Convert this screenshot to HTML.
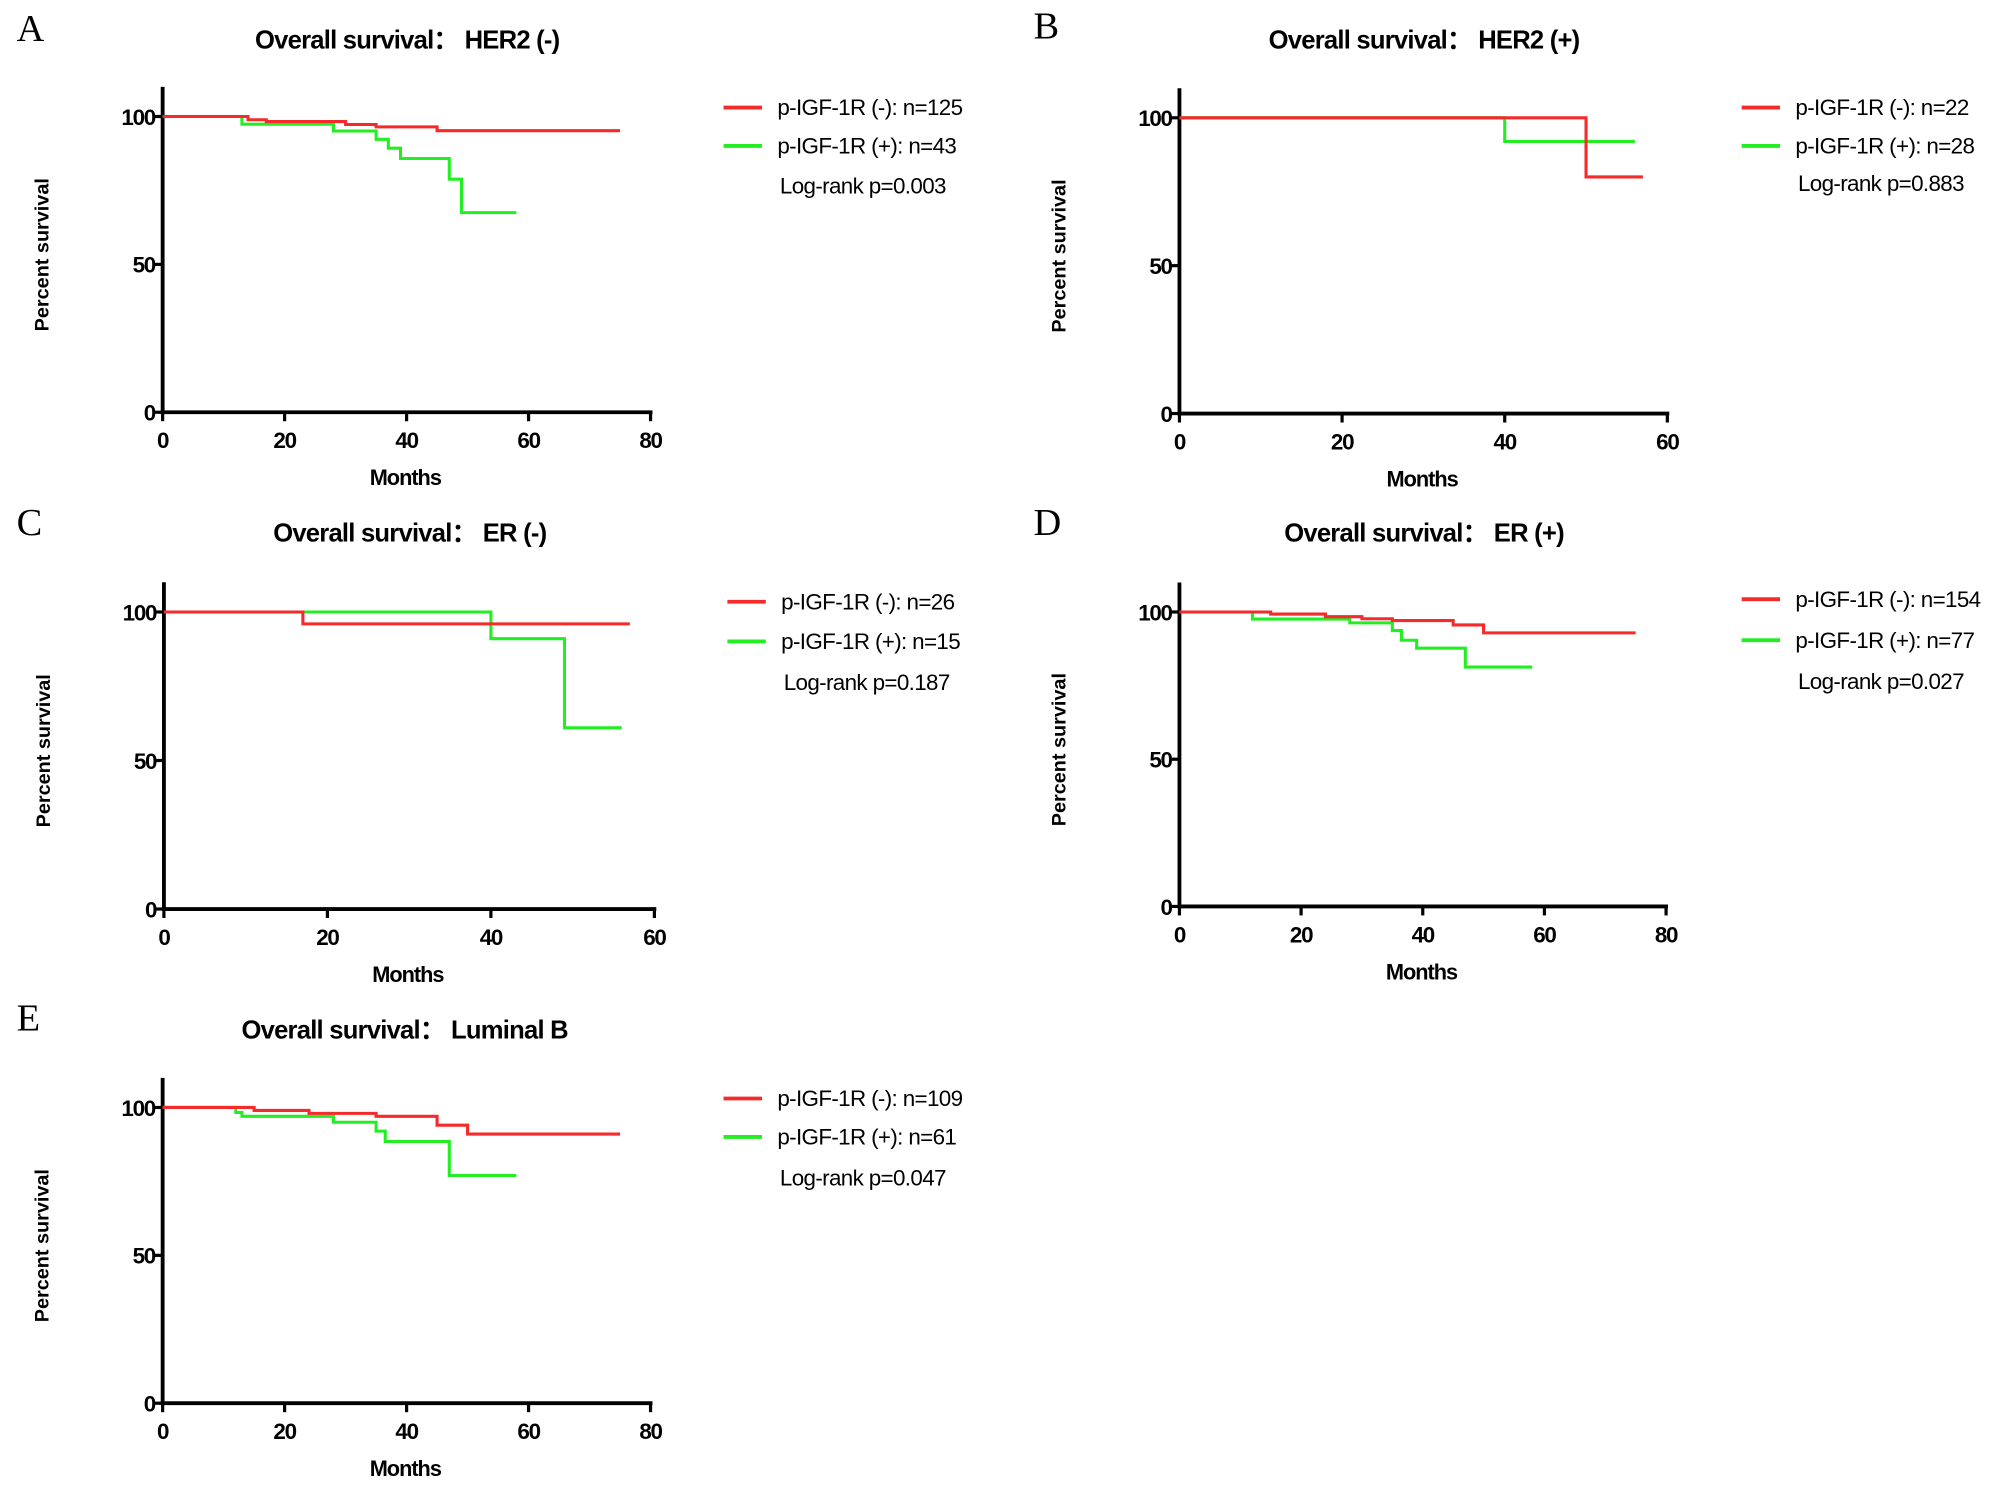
<!DOCTYPE html>
<html><head><meta charset="utf-8"><style>
html,body{margin:0;padding:0;background:#fff}
svg{display:block}
text{font-family:"Liberation Sans",sans-serif}
</style></head><body>
<svg id="fig" xmlns="http://www.w3.org/2000/svg" width="2008" height="1489" viewBox="0 0 1568 1163" preserveAspectRatio="none"></svg>
<script>
// Panel A: HER2 (-)
const aRedT=[0,14,17,30,35,45,75], aRedS=[100,98.9,98.3,97.3,96.5,95.2,95.2];
const aGrnT=[0,13,28,35,37,39,47,49,58], aGrnS=[100,97.4,95.1,92.3,89.3,85.8,78.8,67.5,67.5];
// Panel B: HER2 (+)
const bRedT=[0,50,57], bRedS=[100,80,80];
const bGrnT=[0,40,56], bGrnS=[100,92,92];
// Panel C: ER (-)
const cRedT=[0,17,57], cRedS=[100,96,96];
const cGrnT=[0,40,49,56], cGrnS=[100,91,61,61];
// Panel D: ER (+)
const dRedT=[0,15,24,30,35,45,50,75], dRedS=[100,99.3,98.4,97.7,97.1,95.6,92.9,92.9];
const dGrnT=[0,12,28,35,36.5,39,47,58], dGrnS=[100,97.6,96.3,93.7,90.4,87.7,81.3,81.3];
// Panel E: Luminal B
const eRedT=[0,15,24,35,45,50,75], eRedS=[100,99,98,97,94,91,91];
const eGrnT=[0,12,13,28,35,36.5,47,58], eGrnS=[100,98.3,97,95,92,88.5,77,77];
const yTicks=[0,50,100];
const xTicks80=[0,20,40,60,80], xTicks60=[0,20,40,60];

const NS="http://www.w3.org/2000/svg";
const svg=document.getElementById('fig');
function el(tag,attrs,parent){const e=document.createElementNS(NS,tag);for(const k in attrs)e.setAttribute(k,attrs[k]);(parent||svg).appendChild(e);return e;}
function txt(s,attrs,parent){const e=el('text',attrs,parent);e.textContent=s;return e;}

function panel(cfg){
  const g=el('g',{});
  
  
  const xs=v=>cfg.x0+(v/cfg.xmax)*(cfg.x1-cfg.x0);
  const ys=v=>cfg.y0-(v/100)*(cfg.y0-cfg.y100);
  const L=txt(cfg.id,{x:cfg.lx,y:cfg.ly,style:'font-family:"Liberation Serif",serif','font-size':30},g);
  
  const T=txt(cfg.title,{x:cfg.tx,y:cfg.ty+7,'text-anchor':'middle','font-weight':'bold','font-size':20,'letter-spacing':-0.6},g);
  
  const ya=el('line',{x1:cfg.x0,x2:cfg.x0,y1:ys(110),y2:cfg.y0+1.5,stroke:'#000','stroke-width':3},g);
  
  const xa=el('line',{x1:cfg.x0-1.5,x2:cfg.x1+1.5,y1:cfg.y0,y2:cfg.y0,stroke:'#000','stroke-width':3},g);
  
  yTicks.forEach(v=>{
    el('line',{x1:cfg.x0-6,x2:cfg.x0,y1:ys(v),y2:ys(v),stroke:'#000','stroke-width':2.5},g);
    const t=txt(String(v),{x:cfg.x0-6,y:ys(v)+6.5,'text-anchor':'end','font-weight':'bold','font-size':17.5,'letter-spacing':-1},g);
    
  });
  cfg.xt.forEach(v=>{
    el('line',{x1:xs(v),x2:xs(v),y1:cfg.y0,y2:cfg.y0+7,stroke:'#000','stroke-width':2.5},g);
    const t=txt(String(v),{x:xs(v),y:cfg.y0+28,'text-anchor':'middle','font-weight':'bold','font-size':17.5,'letter-spacing':-1},g);
    
  });
  const xl=txt('Months',{x:xs(cfg.xmax/2)-1,y:cfg.y0+57,'text-anchor':'middle','font-weight':'bold','font-size':17,'letter-spacing':-0.8},g);
  
  const cy=(cfg.y0+ys(110))/2+4;
  const yl=txt('Percent survival',{x:0,y:0,'text-anchor':'middle','font-weight':'bold','font-size':15.5,transform:`translate(${cfg.x0-89},${cy}) rotate(-90)`},g);
  
  function step(T,S,color,name){
    let d='M'+xs(T[0])+','+ys(S[0]);
    for(let i=1;i<T.length;i++){d+=' L'+xs(T[i])+','+ys(S[i-1])+' L'+xs(T[i])+','+ys(S[i]);}
    const p=el('path',{d:d,fill:'none',stroke:color,'stroke-width':2.4},g);
    
  }
  step(cfg.gT,cfg.gS,'#22ee22','curve-pigf1r-positive');
  step(cfg.rT,cfg.rS,'#f52a2a','curve-pigf1r-negative');
  const lg=el('g',{},g);
  
  el('line',{x1:cfg.legx,x2:cfg.legx+30,y1:cfg.leg1,y2:cfg.leg1,stroke:'#f52a2a','stroke-width':3},lg);
  const t1=txt('p-IGF-1R (-): n='+cfg.nR,{x:cfg.legx+42,y:cfg.leg1+6,'font-size':17.5,'letter-spacing':-0.5},lg);
  
  el('line',{x1:cfg.legx,x2:cfg.legx+30,y1:cfg.leg2,y2:cfg.leg2,stroke:'#22ee22','stroke-width':3},lg);
  const t2=txt('p-IGF-1R (+): n='+cfg.nG,{x:cfg.legx+42,y:cfg.leg2+6,'font-size':17.5,'letter-spacing':-0.5},lg);
  
  const t3=txt('Log-rank p='+cfg.p,{x:cfg.legx+44,y:cfg.leg3+6,'font-size':17.5,'letter-spacing':-0.5},lg);
  
}
panel({id:'A',title:'Overall survival\uFF1A HER2 (-)',lx:13,ly:32,tx:318,ty:31,x0:127,x1:508,xmax:80,y0:322,y100:91,xt:xTicks80,
  rT:aRedT,rS:aRedS,gT:aGrnT,gS:aGrnS,legx:565,leg1:84,leg2:114,leg3:145,nR:125,nG:43,p:'0.003'});
panel({id:'B',title:'Overall survival\uFF1A HER2 (+)',lx:807,ly:30,tx:1112,ty:31,x0:921,x1:1302,xmax:60,y0:323,y100:92,xt:xTicks60,
  rT:bRedT,rS:bRedS,gT:bGrnT,gS:bGrnS,legx:1360,leg1:84,leg2:114,leg3:143,nR:22,nG:28,p:'0.883'});
panel({id:'C',title:'Overall survival\uFF1A ER (-)',lx:13,ly:418,tx:320,ty:416,x0:128,x1:511,xmax:60,y0:710,y100:478,xt:xTicks60,
  rT:cRedT,rS:cRedS,gT:cGrnT,gS:cGrnS,legx:568,leg1:470,leg2:501,leg3:533,nR:26,nG:15,p:'0.187'});
panel({id:'D',title:'Overall survival\uFF1A ER (+)',lx:807,ly:418,tx:1112,ty:416,x0:921,x1:1301,xmax:80,y0:708,y100:478,xt:xTicks80,
  rT:dRedT,rS:dRedS,gT:dGrnT,gS:dGrnS,legx:1360,leg1:468,leg2:500,leg3:532,nR:154,nG:77,p:'0.027'});
panel({id:'E',title:'Overall survival\uFF1A Luminal B',lx:13,ly:805,tx:316,ty:804,x0:127,x1:508,xmax:80,y0:1096,y100:865,xt:xTicks80,
  rT:eRedT,rS:eRedS,gT:eGrnT,gS:eGrnS,legx:565,leg1:858,leg2:888,leg3:920,nR:109,nG:61,p:'0.047'});
</script>
</body></html>
